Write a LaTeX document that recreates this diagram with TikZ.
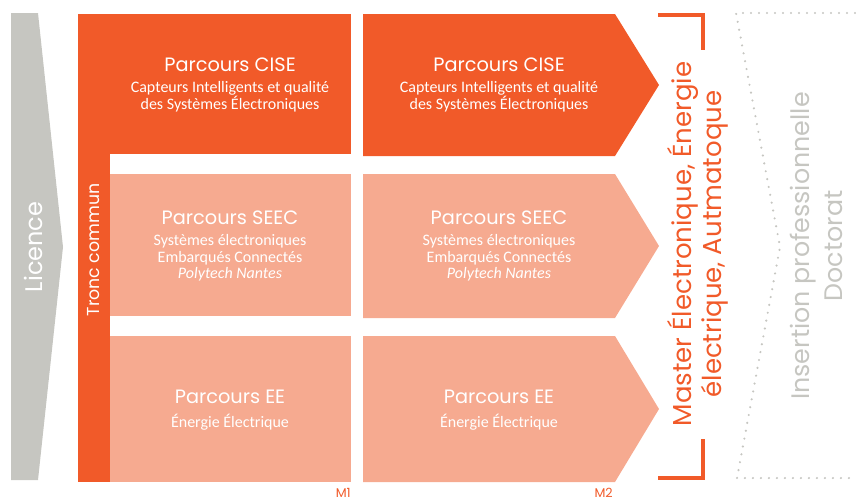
\documentclass[tikz,border=0pt]{standalone}
\usepackage{fontspec}
\setmainfont{Poppins}
\newfontfamily\subfont{Carlito}
\usetikzlibrary{positioning}

\definecolor{orangeM}{HTML}{F15A29}
\definecolor{saumon}{HTML}{F6AA90}
\definecolor{grisL}{HTML}{C6C6C1}

\tikzset{
  titre/.style={text=white, inner sep=0pt, font=\fontsize{14.5}{17}\selectfont},
  soustitre/.style={text=white, inner sep=0pt, align=center,
                    font=\subfont\fontsize{12}{12.2}\selectfont},
  annee/.style={text=orangeM, inner sep=0pt, font=\fontsize{9.5}{11}\selectfont},
  crochet/.style={orangeM, line width=3pt},
  pointille/.style={grisL, line width=1.8pt, line cap=round, dash pattern=on 0pt off 6pt},
}

\begin{document}
\begin{tikzpicture}[x=0.75pt, y=-0.75pt]

\useasboundingbox (0,0) rectangle (856,500);

% ---------- Licence ----------
\fill[grisL] (11,13) -- (38,13) -- (63,247) -- (38,480) -- (11,480) -- cycle;
\node[rotate=90, text=white, font=\fontsize{18}{20}\selectfont] (licence) at (33,247) {Licence};

% ---------- M1 : tronc commun + parcours ----------
\fill[orangeM] (78,14) rectangle (351,154);
\fill[orangeM] (78,14) rectangle (110,482);
\fill[saumon] (110,174) rectangle (351,316);
\fill[saumon] (110,336) rectangle (351,482);

\node[rotate=90, text=white, font=\fontsize{13}{15}\selectfont] (tronc) at (94,250) {Tronc commun};

% ---------- M2 : fleches ----------
\foreach \haut/\bas/\coul in {14/156/orangeM, 174/318/saumon, 336/482/saumon} {
  \fill[\coul] (363,\haut) -- (615,\haut) -- (659,{(\haut+\bas)/2}) -- (615,\bas) -- (363,\bas) -- cycle;
}

% ---------- Textes des parcours ----------
\foreach \x/\m in {230/a, 499/b} {
  \node[titre] (cise\m) at (\x,65) {Parcours CISE};
  \node[soustitre, below=7pt of cise\m] (cises\m) {Capteurs Intelligents et qualité\\des Systèmes Électroniques};

  \node[titre] (seec\m) at (\x,218) {Parcours SEEC};
  \node[soustitre, below=7pt of seec\m] (seecs\m) {Systèmes électroniques\\Embarqués Connectés\\\textit{Polytech Nantes}};

  \node[titre] (ee\m) at (\x,397) {Parcours EE};
  \node[soustitre, below=7pt of ee\m] (ees\m) {Énergie Électrique};
}

\node[annee, anchor=base east] (m1) at (351,497) {M1};
\node[annee, anchor=base east] (m2) at (613,497) {M2};

% ---------- Master ----------
\draw[crochet] (658,14.5) -- (702.5,14.5) -- (702.5,50);
\draw[crochet] (702.5,439) -- (702.5,477.5) -- (658,477.5);
\node[rotate=90, align=center, text=orangeM, font=\fontsize{19.5}{22.5}\selectfont] (master) at (698,244)
  {Master Électronique, Énergie\\électrique, Autmatoque};

% ---------- Apres le master ----------
\draw[pointille] (855,13) -- (736,13) -- (780,247) -- (737,478) -- (855,478);
\node[rotate=90, align=center, text=grisL, font=\fontsize{19}{24.75}\selectfont] (apres) at (816,246)
  {Insertion professionnelle\\Doctorat};

\end{tikzpicture}
\end{document}
